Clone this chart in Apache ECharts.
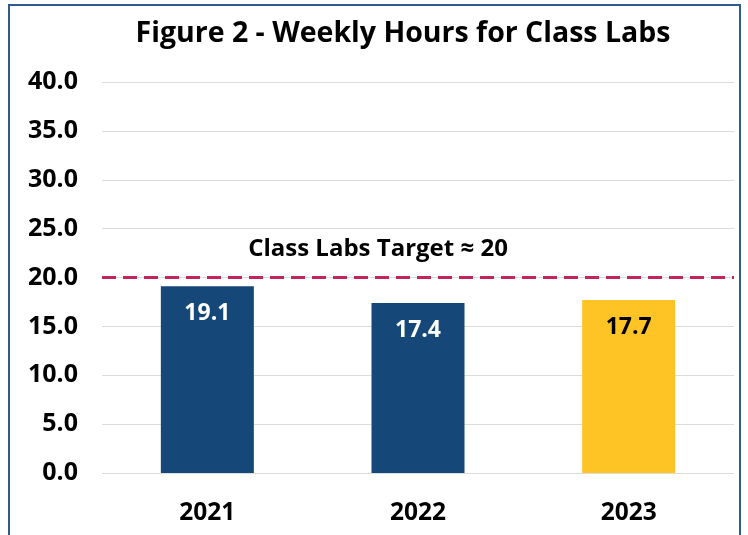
<!DOCTYPE html>
<html>
<head>
<meta charset="utf-8">
<script src="https://cdn.jsdelivr.net/npm/echarts@6/dist/echarts.min.js"></script>
<style>
  html, body { margin: 0; padding: 0; background: #fff; }
  #chart { width: 748px; height: 535px; }
</style>
</head>
<body>
<div id="chart"></div>
<script>
// data
var years = ['2021', '2022', '2023'];
var hours = [19.1, 17.4, 17.7];
var barColors = ['#154878', '#154878', '#FEC425'];
var labelColors = ['#ffffff', '#ffffff', '#000000'];
var target = 20;
var targetLabel = 'Class Labs Target \u2248 20';

var font = '"Open Sans", "Noto Sans", sans-serif';

var myChart = echarts.init(document.getElementById('chart'), null, { renderer: 'canvas' });

var option = {
  animation: false,
  title: {
    text: 'Figure 2 - Weekly Hours for Class Labs',
    left: 398,
    textAlign: 'center',
    top: 14,
    textStyle: { fontFamily: font, fontWeight: 'bold', fontSize: 28.5, color: '#000' }
  },
  graphic: [{
    type: 'rect',
    shape: { x: 9, y: 5, width: 731, height: 560 },
    style: { fill: 'none', stroke: '#2E5A8E', lineWidth: 2 },
    z: 100
  }],
  grid: { left: 102, right: 14, top: 82, bottom: 62 },
  xAxis: {
    type: 'category',
    data: years,
    axisLine: { show: false },
    axisTick: { show: false },
    axisLabel: { margin: 28, fontFamily: font, fontWeight: 'bold', fontSize: 24.5, color: '#000' }
  },
  yAxis: {
    type: 'value',
    min: 0,
    max: 40,
    interval: 5,
    axisLine: { show: false },
    axisTick: { show: false },
    splitLine: { lineStyle: { color: '#dcdcdc', width: 1 } },
    axisLabel: {
      margin: 24,
      formatter: function (v) { return v.toFixed(1); },
      fontFamily: font, fontWeight: 'bold', fontSize: 25, color: '#000'
    }
  },
  series: [{
    type: 'bar',
    barWidth: 93,
    data: hours.map(function (v, i) {
      return {
        value: v,
        itemStyle: { color: barColors[i] },
        label: { color: labelColors[i] }
      };
    }),
    label: {
      show: true,
      position: 'insideTop',
      distance: 16,
      formatter: function (p) { return p.value.toFixed(1); },
      fontFamily: font, fontWeight: 'bold', fontSize: 23
    },
    markLine: {
      symbol: 'none',
      silent: true,
      lineStyle: { color: '#C2255C', type: [14, 7], width: 3 },
      label: {
        show: true,
        position: 'middle',
        formatter: targetLabel,
        distance: 16,
        padding: [0, 80, 0, 0],
        fontFamily: font, fontWeight: 'bold', fontSize: 24, color: '#000'
      },
      data: [{ yAxis: target }]
    }
  }]
};

myChart.setOption(option);
window.onresize = function () { myChart.resize(); };
</script>
</body>
</html>
